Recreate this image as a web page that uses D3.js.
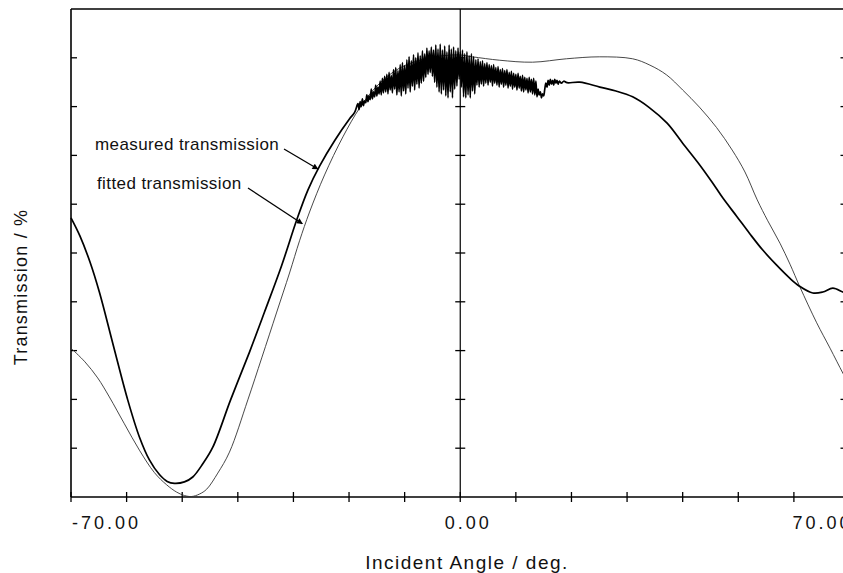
<!DOCTYPE html>
<html>
<head>
<meta charset="utf-8">
<script src="https://cdn.jsdelivr.net/npm/d3@7"></script>
<style>
  body { margin: 0; background: #fff; }
  svg { display: block; font-family: "Liberation Sans", Arial, sans-serif; }
</style>
</head>
<body>
<div id="chart"></div>
<script>
// fitted curve, [angle in deg, transmission in %]
const fitted = [
  [-70, 30.5], [-67.5, 27.7], [-65.2, 24.4], [-63.1, 20.5], [-60.4, 15.0],
  [-57.7, 9.6], [-55.0, 5.0], [-52.8, 2.5], [-51.0, 1.0], [-49.6, 0.3],
  [-48.3, 0.1], [-46.9, 0.6], [-45.6, 1.6], [-43.6, 4.9], [-41.5, 9.2],
  [-38.2, 19.9], [-35.7, 28.5], [-33.0, 37.9], [-30.7, 45.9], [-28.9, 52.5],
  [-27.1, 58.4], [-24.4, 66.0], [-21.1, 73.8], [-18.1, 79.7], [-15.0, 84.2],
  [-10.9, 87.9], [-5.5, 90.0], [-0.4, 90.6], [2.2, 90.2], [7.1, 89.5],
  [13.0, 89.1], [19.1, 89.8], [25.0, 90.2], [31.0, 89.8], [34.1, 88.5],
  [37.1, 86.5], [40.0, 83.4], [43.0, 79.9], [46.1, 75.7], [48.9, 71.1],
  [51.2, 66.6], [53.4, 60.9], [55.3, 56.6], [57.5, 52.0], [59.3, 47.7],
  [61.1, 43.0], [64.1, 35.7], [66.5, 30.5], [68.8, 25.4], [70, 22.9]
]

// measured curve, noisy around normal incidence
const measured = [
  [-70.0, 57.2], [-68.4, 53.5], [-66.6, 48.2], [-64.9, 42.0], [-62.4, 31.1],
  [-59.8, 19.9], [-57.7, 12.3], [-55.9, 7.6], [-54.1, 4.6], [-52.7, 3.2],
  [-51.4, 2.8], [-49.6, 3.1], [-48.1, 4.1], [-46.3, 6.8], [-44.5, 10.2],
  [-41.3, 19.9], [-37.9, 29.7], [-35.2, 37.9], [-32.1, 47.5], [-29.4, 56.8],
  [-27.4, 62.9], [-25.3, 67.8], [-22.6, 73.0], [-19.9, 77.5], [-19.0, 78.8],
  [-18.4, 80.6], [-18.2, 79.4], [-18.0, 81.0], [-17.8, 80.0], [-17.6, 81.6],
  [-17.4, 80.2], [-17.2, 81.2], [-17.0, 80.8], [-16.8, 82.4], [-16.6, 81.0],
  [-16.4, 82.2], [-16.2, 81.4], [-16.0, 83.6], [-15.8, 81.6], [-15.6, 83.0],
  [-15.4, 82.0], [-15.2, 84.4], [-15.0, 82.2], [-14.8, 84.0], [-14.6, 82.6],
  [-14.4, 85.2], [-14.2, 82.4], [-14.0, 85.8], [-13.8, 82.8], [-13.6, 86.2],
  [-13.4, 83.0], [-13.2, 86.6], [-13.0, 82.6], [-12.8, 87.0], [-12.6, 83.4],
  [-12.4, 86.4], [-12.2, 82.8], [-12.0, 87.6], [-11.8, 83.6], [-11.6, 88.0],
  [-11.4, 82.4], [-11.2, 87.4], [-11.0, 83.0], [-10.8, 88.6], [-10.6, 82.2],
  [-10.4, 89.0], [-10.2, 83.2], [-10.0, 88.4], [-9.8, 82.6], [-9.6, 89.6],
  [-9.4, 83.8], [-9.2, 90.2], [-9.0, 83.0], [-8.8, 89.4], [-8.6, 84.2],
  [-8.4, 90.6], [-8.2, 83.4], [-8.0, 90.0], [-7.8, 84.6], [-7.6, 91.0],
  [-7.4, 83.8], [-7.2, 90.4], [-7.0, 84.8], [-6.8, 91.4], [-6.6, 85.2],
  [-6.4, 90.8], [-6.2, 86.0], [-6.0, 92.0], [-5.8, 86.6], [-5.6, 91.4],
  [-5.4, 87.0], [-5.2, 92.2], [-5.0, 86.2], [-4.8, 91.6], [-4.6, 85.0],
  [-4.4, 92.6], [-4.2, 84.0], [-4.0, 91.8], [-3.8, 83.0], [-3.6, 92.8],
  [-3.4, 82.6], [-3.2, 91.6], [-3.0, 83.4], [-2.8, 92.4], [-2.6, 82.2],
  [-2.4, 91.2], [-2.2, 81.8], [-2.0, 92.6], [-1.8, 83.0], [-1.6, 91.8],
  [-1.4, 81.8], [-1.2, 92.2], [-1.0, 83.6], [-0.8, 91.4], [-0.6, 84.2],
  [-0.4, 92.0], [-0.2, 85.6], [0.0, 91.2], [0.2, 84.0], [0.4, 91.6],
  [0.6, 82.0], [0.8, 90.8], [1.0, 81.8], [1.2, 91.2], [1.4, 82.4],
  [1.6, 90.4], [1.8, 81.8], [2.0, 90.8], [2.2, 83.2], [2.4, 90.2],
  [2.6, 82.6], [2.8, 89.6], [3.0, 84.4], [3.2, 89.8], [3.4, 84.0],
  [3.6, 89.2], [3.8, 84.6], [4.0, 89.4], [4.2, 84.2], [4.4, 88.8],
  [4.6, 84.8], [4.8, 89.0], [5.0, 84.4], [5.2, 88.6], [5.4, 85.0],
  [5.6, 88.4], [5.8, 84.2], [6.0, 88.6], [6.2, 84.8], [6.4, 88.0],
  [6.6, 84.4], [6.8, 88.2], [7.0, 84.0], [7.2, 87.6], [7.4, 84.6],
  [7.6, 87.8], [7.8, 84.0], [8.0, 87.4], [8.2, 84.4], [8.4, 87.6],
  [8.6, 83.8], [8.8, 87.0], [9.0, 84.2], [9.2, 87.2], [9.4, 83.6],
  [9.6, 86.8], [9.8, 84.0], [10.0, 86.6], [10.2, 83.4], [10.4, 86.8],
  [10.6, 83.8], [10.8, 86.2], [11.0, 83.2], [11.2, 86.4], [11.4, 83.0],
  [11.6, 86.0], [11.8, 83.4], [12.0, 85.8], [12.2, 82.8], [12.4, 86.0],
  [12.6, 83.0], [12.8, 85.6], [13.0, 82.6], [13.2, 85.8], [13.4, 82.4],
  [13.6, 85.2], [13.8, 82.0], [14.0, 83.6], [14.2, 82.4], [14.4, 83.0],
  [14.6, 81.8], [14.8, 82.6], [15.0, 82.2], [15.2, 83.6], [15.4, 84.8],
  [15.6, 84.0], [15.8, 85.4], [16.0, 84.4], [16.2, 85.6], [16.4, 84.6],
  [16.6, 85.4], [16.8, 84.4], [17.0, 85.6], [17.2, 84.8], [17.4, 85.4],
  [17.6, 84.6], [17.8, 85.2], [18.2, 84.8], [18.6, 85.2], [19.2, 84.9],
  [21.5, 85.0], [25.1, 84.0], [28.0, 83.2], [31.0, 82.0], [34.0, 79.8],
  [37.2, 76.6], [40.0, 72.5], [43.1, 68.0], [45.3, 64.5], [47.2, 61.3],
  [49.8, 57.4], [52.1, 53.9], [54.4, 50.6], [56.9, 47.5], [59.2, 44.9],
  [61.0, 43.2], [63.4, 41.8], [65.2, 42.0], [67.0, 42.8], [68.8, 42.0],
  [70, 41.4]
]

const xTickValues = [-70, -60, -50, -40, -30, -20, -10, 0, 10, 20, 30, 40, 50, 60, 70]
const xLabelValues = [-70, 0, 70]
const xLabelTexts = ["-70.00", "0.00", "70.00"]
const yTickValues = [10, 20, 30, 40, 50, 60, 70, 80, 90]

// where the two annotation arrows point, [angle, %]
const measuredTip = [-25.6, 67.2]
const fittedTip = [-28.4, 56.0]

const width = 843
const height = 573

const x = d3.scaleLinear().domain([-70, 70]).range([71, 849.5])
const y = d3.scaleLinear().domain([0, 100]).range([497, 9])

const svg = d3.select("#chart")
  .append("svg")
    .attr("width", width)
    .attr("height", height)

svg.append("defs").append("marker")
    .attr("id", "head")
    .attr("viewBox", "0 0 10 10")
    .attr("refX", 9)
    .attr("refY", 5)
    .attr("markerWidth", 8)
    .attr("markerHeight", 6)
    .attr("markerUnits", "userSpaceOnUse")
    .attr("orient", "auto")
  .append("path")
    .attr("d", "M0,0 L10,5 L0,10 z")
    .attr("fill", "#000")

// frame: left, bottom, top and right axes
const frame = svg.append("g")
  .attr("stroke", "#000")
  .attr("fill", "none")

frame.append("line")
  .attr("x1", x(-70)).attr("x2", x(-70))
  .attr("y1", y(100)).attr("y2", y(0))
  .attr("stroke-width", 1.6)
frame.append("line")
  .attr("x1", x(-70)).attr("x2", x(70))
  .attr("y1", y(0)).attr("y2", y(0))
  .attr("stroke-width", 1.3)
frame.append("line")
  .attr("x1", x(-70)).attr("x2", x(70))
  .attr("y1", y(100)).attr("y2", y(100))
  .attr("stroke-width", 1.3)
frame.append("line")
  .attr("x1", x(70)).attr("x2", x(70))
  .attr("y1", y(100)).attr("y2", y(0))
  .attr("stroke-width", 1.3)
// vertical line at normal incidence
frame.append("line")
  .attr("x1", x(0)).attr("x2", x(0))
  .attr("y1", y(100)).attr("y2", y(0))
  .attr("stroke-width", 1.2)

// x ticks cross the bottom axis
frame.selectAll(".xt")
  .data(xTickValues)
  .join("line")
    .attr("x1", d => x(d)).attr("x2", d => x(d))
    .attr("y1", y(0) - 5).attr("y2", y(0) + 5)
    .attr("stroke-width", 1.3)

// y ticks: inward on the left, crossing at 0 deg, inward on the right
frame.selectAll(".yl")
  .data(yTickValues)
  .join("line")
    .attr("x1", x(-70)).attr("x2", x(-70) + 6)
    .attr("y1", d => y(d)).attr("y2", d => y(d))
    .attr("stroke-width", 1.3)
frame.selectAll(".yc")
  .data(yTickValues)
  .join("line")
    .attr("x1", x(0) - 5).attr("x2", x(0) + 5)
    .attr("y1", d => y(d)).attr("y2", d => y(d))
    .attr("stroke-width", 1.3)
frame.selectAll(".yr")
  .data(yTickValues)
  .join("line")
    .attr("x1", x(70) - 9).attr("x2", x(70))
    .attr("y1", d => y(d)).attr("y2", d => y(d))
    .attr("stroke-width", 1.3)

// tick labels
svg.selectAll(".xlab")
  .data(xLabelValues)
  .join("text")
    .attr("x", (d, i) => i == 0 ? x(d) + 1 : (i == xLabelValues.length - 1 ? x(d) + 3 : x(d) + 8))
    .attr("y", 529)
    .attr("text-anchor", (d, i) => i == 0 ? "start" : (i == xLabelValues.length - 1 ? "end" : "middle"))
    .attr("font-size", 18)
    .attr("letter-spacing", 3)
    .attr("fill", "#111")
    .text((d, i) => xLabelTexts[i])

// curves
const line = d3.line()
  .x(d => x(d[0]))
  .y(d => y(d[1]))
  .curve(d3.curveCatmullRom.alpha(0.5))

svg.append("path")
  .datum(fitted)
  .attr("d", line)
  .attr("fill", "none")
  .attr("stroke", "#333")
  .attr("stroke-width", 0.9)

svg.append("path")
  .datum(measured)
  .attr("d", line)
  .attr("fill", "none")
  .attr("stroke", "#000")
  .attr("stroke-width", 1.7)
  .attr("stroke-linejoin", "round")

// annotations
const notes = svg.append("g")
  .attr("font-size", 17)
  .attr("letter-spacing", 0.4)
  .attr("fill", "#111")

notes.append("text")
  .attr("x", 95).attr("y", 150)
  .text("measured transmission")
notes.append("text")
  .attr("x", 97).attr("y", 189)
  .text("fitted transmission")

notes.append("line")
  .attr("x1", 284).attr("y1", 149)
  .attr("x2", x(measuredTip[0])).attr("y2", y(measuredTip[1]))
  .attr("stroke", "#000").attr("stroke-width", 1.3)
  .attr("marker-end", "url(#head)")
notes.append("line")
  .attr("x1", 248).attr("y1", 188)
  .attr("x2", x(fittedTip[0])).attr("y2", y(fittedTip[1]))
  .attr("stroke", "#000").attr("stroke-width", 1.3)
  .attr("marker-end", "url(#head)")

// axis titles
svg.append("text")
  .attr("x", 467).attr("y", 569)
  .attr("text-anchor", "middle")
  .attr("font-size", 19)
  .attr("letter-spacing", 1.5)
  .attr("fill", "#111")
  .text("Incident Angle / deg.")

svg.append("text")
  .attr("transform", "translate(27,287) rotate(-90)")
  .attr("text-anchor", "middle")
  .attr("font-size", 18)
  .attr("letter-spacing", 1.2)
  .attr("fill", "#111")
  .text("Transmission / %")
</script>
</body>
</html>
